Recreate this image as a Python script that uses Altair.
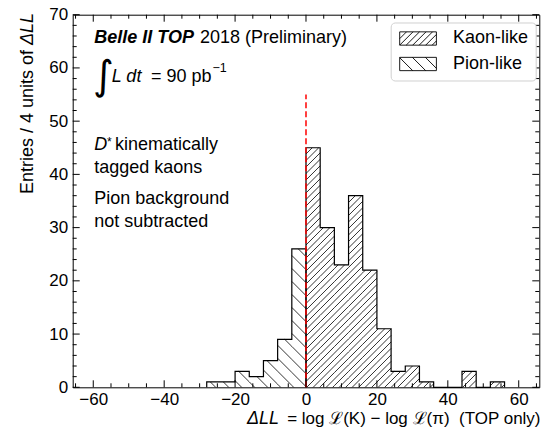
import math
import altair as alt
import pandas as pd

# ---------------- data ----------------
BIN_WIDTH = 4
kaon_edges = [0, 4, 8, 12, 16, 20, 24, 28, 32, 36, 40, 44, 48, 52]
kaon_counts = [45, 30, 23, 36, 22, 11, 3, 4, 1, 0, 0, 3, 0, 1]
pion_edges = [-28, -24, -20, -16, -12, -8, -4]
pion_counts = [1, 1, 3, 2, 5, 9, 26]
cut_x = [0]
cut_top = [55]
legend_labels = ["Kaon-like", "Pion-like"]
x_major = [-60, -40, -20, 0, 20, 40, 60]
x_minor = [v for v in range(-65, 66, 5) if v % 20 != 0]
y_major = [0, 10, 20, 30, 40, 50, 60, 70]
y_minor = [v for v in range(2, 70, 2) if v % 10 != 0]

# ---------------- layout ----------------
ORIGIN_X, ORIGIN_Y = 72.7, 14.7      # page position of plot area
W, H = 466.6, 372.6
XMIN, XMAX = -65.8, 65.8
YMAX = 70
SX = W / (XMAX - XMIN)
SY = H / YMAX
FONT = "Liberation Sans"
FS = 18

xscale = alt.Scale(domain=[XMIN, XMAX], nice=False, zero=False)
yscale = alt.Scale(domain=[0, YMAX], nice=False, zero=False)
ax_x = alt.Axis(orient="bottom", values=x_major, ticks=False, domain=False,
                labelFont=FONT, labelFontSize=17, labelColor="black",
                labelPadding=4, grid=False, title=None, format="d")
ax_y = alt.Axis(orient="left", values=y_major, ticks=False, domain=False,
                labelFont=FONT, labelFontSize=17, labelColor="black",
                labelPadding=5, grid=False, title=None, format="d")


def X(field):
    return alt.X(field, scale=xscale, axis=ax_x)


def Y(field):
    return alt.Y(field, scale=yscale, axis=ax_y)


def clip_hatch(x0, x1, h, direction, spacing):
    """segments of 45deg hatch lines clipped to box [x0,x1]x[0,h] (pixel units, y up)"""
    segs = []
    if direction == "/":
        k0 = math.floor((x0 - h) / spacing) - 1
        k1 = math.ceil(x1 / spacing) + 1
        for k in range(k0, k1 + 1):
            c = k * spacing
            a = max(x0, c)
            b = min(x1, c + h)
            if b - a > 0.4:
                segs.append((a, a - c, b, b - c))
    else:
        k0 = math.floor(x0 / spacing) - 1
        k1 = math.ceil((x1 + h) / spacing) + 1
        for k in range(k0, k1 + 1):
            c = k * spacing
            a = max(x0, c - h)
            b = min(x1, c)
            if b - a > 0.4:
                segs.append((a, c - a, b, c - b))
    return segs


def hatch_df(edges, counts, direction, spacing):
    rows = []
    for e, c in zip(edges, counts):
        if c <= 0:
            continue
        x0 = (e - XMIN) * SX
        x1 = (e + BIN_WIDTH - XMIN) * SX
        for a, ay, b, by in clip_hatch(x0, x1, c * SY, direction, spacing):
            rows.append({"x": XMIN + a / SX, "y": ay / SY,
                         "x2": XMIN + b / SX, "y2": by / SY})
    return pd.DataFrame(rows)


def outline_df(edges, counts):
    xs, ys = [edges[0]], [0]
    for e, c in zip(edges, counts):
        xs += [e, e + BIN_WIDTH]
        ys += [c, c]
    xs.append(edges[-1] + BIN_WIDTH)
    ys.append(0)
    return pd.DataFrame({"x": xs, "y": ys, "order": list(range(len(xs)))})


SYM = 14.0          # legend symbol nominal size (px)
PATCH_W, PATCH_H = 36.7, 13.3


def patch_path(direction, spacing):
    s = SYM / 2
    hh = PATCH_H / 2 / s
    parts = [f"M-1,{-hh:.3f}H{PATCH_W / s - 1:.3f}V{hh:.3f}H-1Z"]
    for a, ay, b, by in clip_hatch(0, PATCH_W, PATCH_H, direction, spacing):
        parts.append(f"M{a / s - 1:.3f},{hh - ay / s:.3f}L{b / s - 1:.3f},{hh - by / s:.3f}")
    return "".join(parts)


KAON_SP, PION_SP = 6.5, 13.0
hatch_all = pd.concat([hatch_df(kaon_edges, kaon_counts, "/", KAON_SP),
                       hatch_df(pion_edges, pion_counts, "\\", PION_SP)],
                      ignore_index=True)
kaon_line = outline_df(kaon_edges, kaon_counts)
pion_line = outline_df(pion_edges, pion_counts)
bins_df = pd.DataFrame({
    "x": kaon_edges + pion_edges,
    "y": kaon_counts + pion_counts,
    "kind": [legend_labels[0]] * len(kaon_edges) + [legend_labels[1]] * len(pion_edges),
})
cut_df = pd.DataFrame({"x": cut_x, "y": [0], "y2": cut_top})

# ---------------- layers ----------------
hatch_layer = alt.Chart(hatch_all).mark_rule(color="black", strokeWidth=0.8).encode(
    x=X("x:Q"), y=Y("y:Q"), x2="x2:Q", y2="y2:Q",
)


def outline_layer(df):
    return alt.Chart(df).mark_line(color="black", strokeWidth=1.2).encode(
        x=X("x:Q"), y=Y("y:Q"), order="order:Q",
    )


cut_layer = alt.Chart(cut_df).mark_rule(color="#ff0000", strokeWidth=1.5, strokeDash=[6, 3]).encode(
    x=X("x:Q"), y=Y("y:Q"), y2="y2:Q",
)

legend_layer = alt.Chart(bins_df).mark_point(opacity=0, filled=False).encode(
    x=X("x:Q"), y=Y("y:Q"),
    shape=alt.Shape("kind:N",
                    scale=alt.Scale(domain=legend_labels,
                                    range=[patch_path("/", KAON_SP), patch_path("\\", PION_SP)]),
                    legend=alt.Legend(orient="none", legendX=318, legendY=7.8, title=None,
                                      labelFont=FONT, labelFontSize=FS, labelColor="black",
                                      labelOffset=37.3, symbolSize=SYM ** 2,
                                      symbolStrokeColor="black", symbolStrokeWidth=0.9,
                                      symbolFillColor="transparent", symbolOpacity=1,
                                      fillColor="white", strokeColor="#d0d0d0",
                                      cornerRadius=4, padding=7, rowPadding=7.5)),
)


# inward-pointing ticks on all four sides
def tick_layer(values, channel, side, length):
    df = pd.DataFrame({"v": values})
    if channel == "x":
        enc = {"x": X("v:Q")}
        if side == "bottom":
            enc.update(y=alt.value(H), y2=alt.value(H - length))
        else:
            enc.update(y=alt.value(0), y2=alt.value(length))
    else:
        enc = {"y": Y("v:Q")}
        if side == "left":
            enc.update(x=alt.value(0), x2=alt.value(length))
        else:
            enc.update(x=alt.value(W), x2=alt.value(W - length))
    return alt.Chart(df).mark_rule(color="black", strokeWidth=1).encode(**enc)


ticks = []
for side in ("bottom", "top"):
    ticks.append(tick_layer(x_major, "x", side, 7))
    ticks.append(tick_layer(x_minor, "x", side, 4))
for side in ("left", "right"):
    ticks.append(tick_layer(y_major, "y", side, 7))
    ticks.append(tick_layer(y_minor, "y", side, 4))


# ---------------- annotations (page coordinates -> plot coordinates) ----------------
def txt(s, px, py, size=FS, style="normal", weight="normal", align="left",
        angle=0, font=FONT, baseline="alphabetic"):
    return alt.Chart(pd.DataFrame({"t": [s]})).mark_text(
        font=font, fontSize=size, fontStyle=style, fontWeight=weight,
        align=align, baseline=baseline, angle=angle, color="black",
    ).encode(x=alt.value(px - ORIGIN_X), y=alt.value(py - ORIGIN_Y), text="t:N")


texts = [
    txt("Belle II TOP", 94.3, 42.7, size=18, style="italic", weight="bold"),
    txt("2018 (Preliminary)", 200, 42.7),
    txt("\u222b", 93, 89, size=40, font="DejaVu Sans", style="italic"),
    txt("L dt", 111.7, 81.7, style="italic"),
    txt("= 90 pb", 211.5, 81.7, align="right"),
    txt("\u22121", 212.5, 71.7, size=12.5),
    txt("D", 94.3, 150, style="italic"),
    txt("*", 107, 146, size=12),
    txt("kinematically", 115, 150),
    txt("tagged kaons", 94.3, 172.7),
    txt("Pion background", 94.3, 204),
    txt("not subtracted", 94.3, 226.7),
    txt("\u0394LL", 247, 424, size=18, style="italic"),
    txt("= log \u2112(K) \u2212 log \u2112(\u03c0)\u00a0\u00a0(TOP only)", 540.5, 424, size=17, align="right"),
    txt("\u0394LL", 33, 13, style="italic", angle=270, align="right"),
    txt("Entries / 4 units of", 33, 50, angle=270, align="right"),
]

chart = alt.layer(
    hatch_layer, outline_layer(kaon_line), outline_layer(pion_line), cut_layer,
    legend_layer, *ticks, *texts,
).properties(
    width=W, height=H,
    autosize=alt.AutoSizeParams(type="none"),
    padding={"left": ORIGIN_X - 8, "top": ORIGIN_Y - 8, "right": 2, "bottom": 40},
    background="white",
).configure_view(stroke="black", strokeWidth=1)

chart.save("out.html", embed_options={"renderer": "svg", "actions": False})
